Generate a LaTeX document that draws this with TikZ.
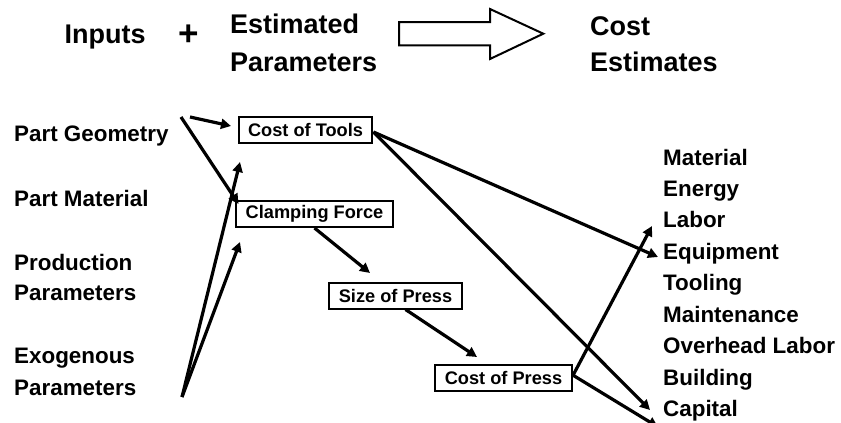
\documentclass[tikz,border=0pt]{standalone}
\usepackage{fontspec}
\setmainfont{Liberation Sans}
\usetikzlibrary{arrows.meta}
\begin{document}
\begin{tikzpicture}[x=1pt,y=-1pt,
  hdr/.style={font=\fontsize{27}{32}\selectfont\bfseries, inner sep=0pt, anchor=base west},
  lbl/.style={font=\fontsize{22.4}{27}\selectfont\bfseries, inner sep=0pt, anchor=base west},
  box/.style={draw, line width=2pt, font=\fontsize{18.2}{22}\selectfont\bfseries,
    inner xsep=9.5pt, inner ysep=0pt, minimum height=26pt},
  conn/.style={line width=3.2pt, -{Triangle[length=10pt,width=10pt]}},
  bigarrow/.style={draw, line width=2pt, line join=miter}]
\useasboundingbox (0,0) rectangle (841,423);
% header
\node[hdr] (inputs) at (64.5,43.3) {Inputs};
\node[font=\fontsize{27}{32}\selectfont\bfseries, inner sep=0pt] (plus) at (188.6,35.3) {\scalebox{1.3}{+}};
\node[hdr] (est1) at (229.8,33.3) {Estimated};
\node[hdr] (est2) at (229.8,71.2) {Parameters};
\node[hdr] (cost1) at (590,35) {Cost};
\node[hdr] (cost2) at (590,71.7) {Estimates};
\draw[bigarrow] (399,22) -- (490,22) -- (490,9) -- (543.3,33.7) -- (490,59) -- (490,45.3) -- (399,45.3) -- cycle;
% inputs
\node[lbl] (geom) at (14,141.7) {Part Geometry};
\node[lbl] (mat) at (14,206) {Part Material};
\node[lbl] (prod1) at (14,270) {Production};
\node[lbl] (prod2) at (14,300) {Parameters};
\node[lbl] (exo1) at (14,363.3) {Exogenous};
\node[lbl] (exo2) at (14,395) {Parameters};
% estimated parameters
\node[box] (tools) at (305.5,130) {Cost of Tools};
\node[box] (clamp) at (314.5,214) {Clamping Force};
\node[box] (size) at (395.5,295.5) {Size of Press};
\node[box] (cpress) at (503.5,378) {Cost of Press};
% cost estimates
\foreach \t/\n [count=\i from 0] in {Material/cmat,Energy/cen,Labor/clab,Equipment/cequ,Tooling/ctool,Maintenance/cmain,Overhead Labor/cover,Building/cbuild,Capital/ccap}
  \node[lbl] (\n) at (663,165+31.46*\i) {\t};
% free ends
\coordinate (g1) at (190,117);
\coordinate (g2) at (181,117);
\coordinate (ex) at (182,397);
\coordinate (t1) at (231,126);
\coordinate (t2) at (238.5,204);
\coordinate (t3) at (240,162);
\coordinate (t4) at (240,242);
\coordinate (t5) at (370,273);
\coordinate (t6) at (477,357);
\coordinate (t7) at (658,257);
\coordinate (t8) at (650,410);
\coordinate (t9) at (652,226);
\coordinate (t10) at (658,427);
% connectors
\draw[conn] (g1) -- (t1);
\draw[conn] (g2) -- (t2);
\draw[conn] (ex) -- (t3);
\draw[conn] (ex) -- (t4);
\draw[conn] (clamp.south) -- (t5);
\draw[conn] ([xshift=10pt]size.south) -- (t6);
\draw[conn] ([yshift=-2pt]tools.east) -- (t7);
\draw[conn] ([yshift=-2pt]tools.east) -- (t8);
\draw[conn] ([yshift=2pt]cpress.east) -- (t9);
\draw[conn] ([yshift=3pt]cpress.east) -- (t10);
\end{tikzpicture}
\end{document}
